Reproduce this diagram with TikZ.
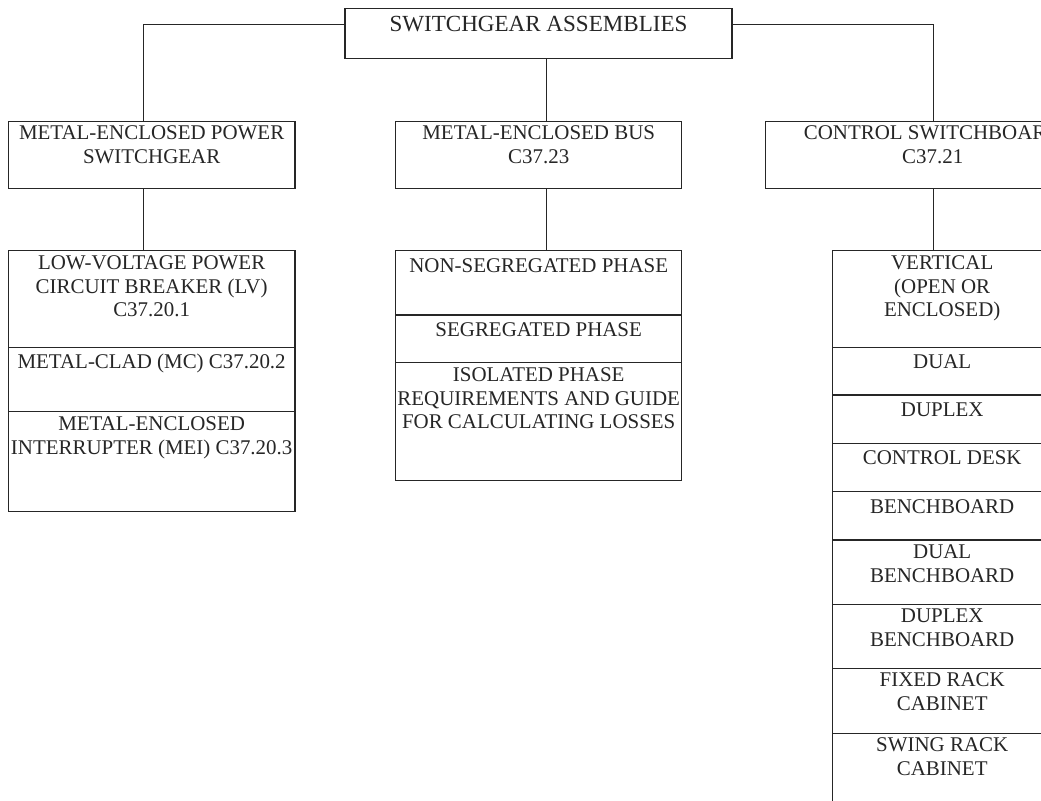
\documentclass[tikz,border=0pt]{standalone}
\usepackage{fontspec}
\setmainfont{Liberation Serif}
\usepackage{tikz}
\usetikzlibrary{positioning}

\begin{document}
\begin{tikzpicture}[x=0.75pt,y=0.75pt,
    cell/.style 2 args={draw=black!85, line width=0.8pt, minimum width=#1*0.75pt,
        minimum height=#2*0.75pt, inner sep=0pt, outer sep=0pt},
    txt/.style={anchor=north, align=center, inner sep=0pt, yshift=-3.4pt,
        text=black!85, font=\fontsize{15.7}{17.8}\selectfont,
        execute at begin node=\strut},
    link/.style={draw=black!85, line width=0.8pt}]
    \useasboundingbox (0,0) rectangle (1041,800);
    \clip (0,0) rectangle (1041,800);
    \fill[white] (0,0) rectangle (1041,800);
    % top of the tree
    \node[cell={387}{50}, anchor=north west,
        label={[txt, font=\fontsize{17.3}{20}\selectfont, yshift=0.2pt]north:SWITCHGEAR ASSEMBLIES}]
        (assy) at (345,791.7) {};
    % first level
    \node[cell={286.7}{66.6}, anchor=north west,
        label={[txt, yshift=0.6pt]north:{METAL-ENCLOSED POWER\\SWITCHGEAR}}] (pswg) at (8.3,678.3) {};
    \node[cell={286}{66.6}, anchor=north west,
        label={[txt, yshift=0.6pt]north:{METAL-ENCLOSED BUS\\C37.23}}] (bus) at (395.7,678.3) {};
    \node[cell={334}{66.6}, anchor=north west,
        label={[txt, yshift=0.6pt]north:{CONTROL SWITCHBOARD\\C37.21}}] (ctrl) at (765.7,678.3) {};
    % power switchgear
    \node[cell={286.7}{96.6}, anchor=north west,
        label={[txt]north:{LOW-VOLTAGE POWER\\CIRCUIT BREAKER (LV)\\C37.20.1}}] (lv) at (8.3,549.3) {};
    \node[cell={286.7}{64.4}, anchor=north,
        label={[txt]north:{METAL-CLAD (MC) C37.20.2}}] (mc) at (lv.south) {};
    \node[cell={286.7}{100}, anchor=north,
        label={[txt]north:{METAL-ENCLOSED\\INTERRUPTER (MEI) C37.20.3}}] (mei) at (mc.south) {};
    % bus
    \node[cell={286}{64.3}, anchor=north west,
        label={[txt]north:{NON-SEGREGATED PHASE}}] (nseg) at (395.7,549.3) {};
    \node[cell={286}{47.7}, anchor=north,
        label={[txt]north:{SEGREGATED PHASE}}] (seg) at (nseg.south) {};
    \node[cell={286}{118}, anchor=north,
        label={[txt]north:{ISOLATED PHASE\\REQUIREMENTS AND GUIDE\\FOR CALCULATING LOSSES}}] (iso) at (seg.south) {};
    % control switchboards
    \node[cell={219}{96.6}, anchor=north west,
        label={[txt]north:{VERTICAL\\(OPEN OR\\ENCLOSED)}}] (vert) at (832.7,549.3) {};
    \node[cell={219}{47.7}, anchor=north,
        label={[txt]north:{DUAL}}] (dual) at (vert.south) {};
    \node[cell={219}{48.3}, anchor=north,
        label={[txt]north:{DUPLEX}}] (dplx) at (dual.south) {};
    \node[cell={219}{48.4}, anchor=north,
        label={[txt]north:{CONTROL DESK}}] (desk) at (dplx.south) {};
    \node[cell={219}{48.3}, anchor=north,
        label={[txt]north:{BENCHBOARD}}] (bench) at (desk.south) {};
    \node[cell={219}{64.3}, anchor=north,
        label={[txt]north:{DUAL\\BENCHBOARD}}] (dbench) at (bench.south) {};
    \node[cell={219}{64}, anchor=north,
        label={[txt]north:{DUPLEX\\BENCHBOARD}}] (dpbench) at (dbench.south) {};
    \node[cell={219}{65}, anchor=north,
        label={[txt]north:{FIXED RACK\\CABINET}}] (fixed) at (dpbench.south) {};
    \node[cell={219}{80}, anchor=north,
        label={[txt]north:{SWING RACK\\CABINET}}] (swing) at (fixed.south) {};
    % connectors
    \coordinate (elbowL) at (143.3,775.7);
    \coordinate (elbowM) at (546.7,775.7);
    \coordinate (elbowR) at (933.5,775.7);
    \draw[link] (assy.west |- elbowL) -- (elbowL) -- (elbowL |- pswg.north);
    \draw[link] (pswg.south -| elbowL) -- (lv.north -| elbowL);
    \draw[link] (assy.south -| elbowM) -- (bus.north -| elbowM);
    \draw[link] (bus.south -| elbowM) -- (nseg.north -| elbowM);
    \draw[link] (assy.east |- elbowR) -- (elbowR) -- (elbowR |- ctrl.north);
    \draw[link] (ctrl.south -| elbowR) -- (vert.north -| elbowR);
\end{tikzpicture}
\end{document}
